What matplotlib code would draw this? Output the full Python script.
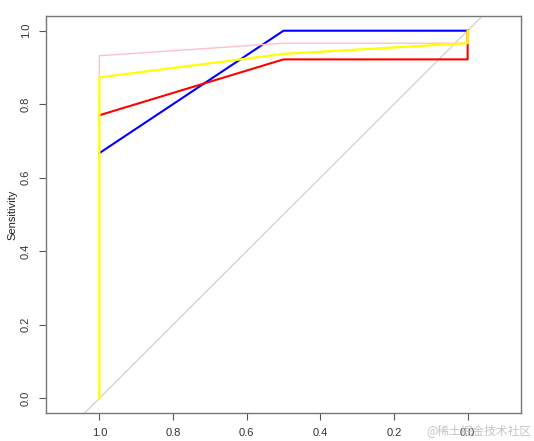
import matplotlib.pyplot as plt

# ROC curves: specificity (x, reversed) vs sensitivity (y)
spec_blue = [1.0, 0.5, 0.0]
sens_blue = [0.667, 1.0, 1.0]

spec_red = [1.0, 0.5, 0.0, 0.0]
sens_red = [0.770, 0.922, 0.922, 1.0]

spec_pink = [1.0, 1.0, 0.5, 0.0, 0.0]
sens_pink = [0.0, 0.932, 0.966, 0.966, 1.0]

spec_yellow = [1.0, 1.0, 0.5, 0.0, 0.0]
sens_yellow = [0.0, 0.873, 0.937, 0.966, 1.0]

ticks = [0.0, 0.2, 0.4, 0.6, 0.8, 1.0]
tick_labels = ["0.0", "0.2", "0.4", "0.6", "0.8", "1.0"]

plt.rcParams['font.family'] = ['Liberation Sans', 'DejaVu Sans']

fig = plt.figure(figsize=(5.34, 4.41), dpi=100, facecolor='white')
ax = fig.add_axes([0.0861, 0.0635, 0.8896, 0.9002])

ax.axline((1.0, 0.0), (0.0, 1.0), color='#d0d0d0', lw=0.9, zorder=1)
ax.plot(spec_blue, sens_blue, color='blue', lw=1.5, zorder=2)
ax.plot(spec_red, sens_red, color='red', lw=1.5, zorder=3)
ax.plot(spec_pink, sens_pink, color='pink', lw=1.0, zorder=4)
ax.plot(spec_yellow, sens_yellow, color='yellow', lw=1.6, zorder=5)

ax.set_xlim(1.145, -0.145)
ax.set_ylim(-0.04, 1.04)

ax.set_xticks(ticks)
ax.set_xticklabels(tick_labels)
ax.set_yticks(ticks)
ax.set_yticklabels(tick_labels, rotation=90, va='center')
ax.tick_params(direction='out', length=5, width=0.8, colors='#555555',
               labelsize=8, labelcolor='#333333', pad=6)
for s in ax.spines.values():
    s.set_color('#777777')
    s.set_linewidth(1.0)

ax.set_ylabel("Sensitivity", fontsize=8, color='#222222', labelpad=2)

fig.text(0.995, 0.01, "@稀土掘金技术社区", ha='right', va='bottom',
         fontsize=8.5, color='#c4c4c4', family=['Noto Sans CJK SC', 'DejaVu Sans'])

plt.savefig("out.png", dpi=100)
